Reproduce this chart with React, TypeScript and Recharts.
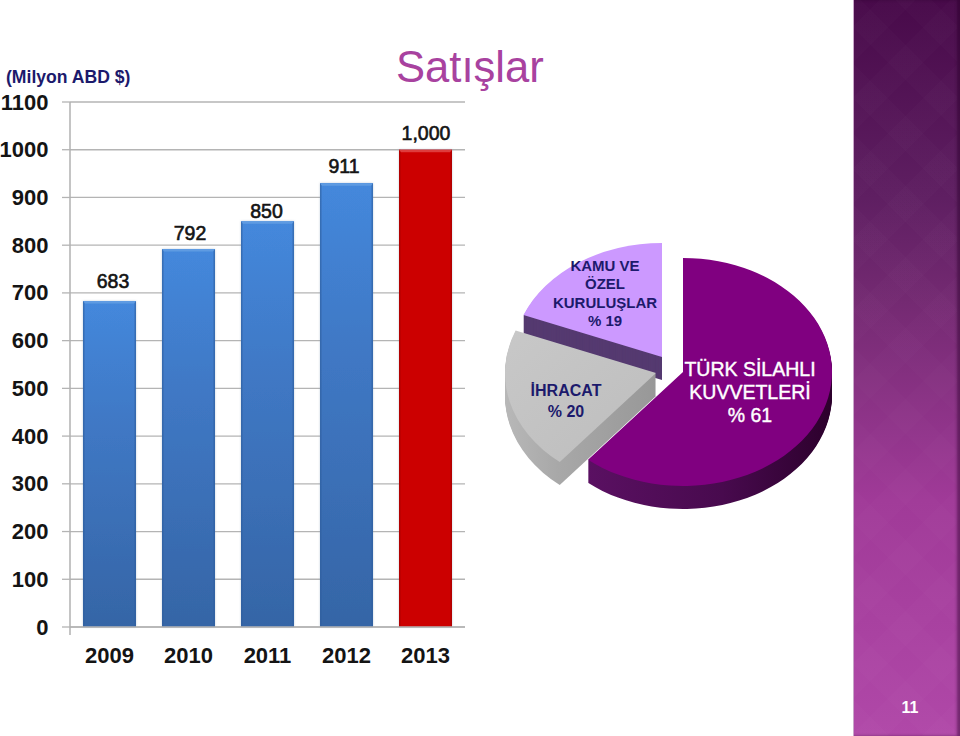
import React from 'react';
import { BarChart, Bar, XAxis, YAxis, CartesianGrid, LabelList, PieChart, Pie, Cell } from 'recharts';

const years = ['2009', '2010', '2011', '2012', '2013'];
const barValues = [683, 792, 850, 930, 1000];
const barLabels = ['683', '792', '850', '911', '1,000'];
const yTicks = [0, 100, 200, 300, 400, 500, 600, 700, 800, 900, 1000, 1100];
const barRows = years.map((year, i) => ({ year, value: barValues[i], label: barLabels[i] }));
const labelNudgeX = [3.5, 1.5, -1, -2.5, 0.5];
const labelNudgeY = [4, 0, -6, 1, 1];

const shareNames = ['TÜRK SİLAHLI KUVVETLERİ', 'İHRACAT', 'KAMU VE ÖZEL KURULUŞLAR'];
const shareValues = [61, 20, 19];
const shareRows = shareNames.map((name, i) => ({ name, value: shareValues[i] }));

const SQUASH = 114 / 149;
const DEPTH = 23;
const FONT = '"Liberation Sans", Arial, sans-serif';
const NAVY = '#1c1a6c';

const sliceSpec = [
  { index: 2, cx: 172, cy: 127 / SQUASH, r: 149, top: '#cc99ff', side: '#553a70' },
  { index: 1, cx: 166, cy: 143 / SQUASH, r: 151, top: 'url(#greyTop)', side: 'url(#greySide)' },
  { index: 0, cx: 193, cy: 142 / SQUASH, r: 149, top: '#800080', side: 'url(#purpleSide)' },
];

const BarShape = (props: any) => {
  const { x, y, width, height, index } = props;
  const red = index === years.length - 1;
  const edge = red ? '#a00808' : '#2f5f9f';
  return (
    <g filter="url(#barShadow)">
      <rect x={x} y={y} width={width} height={height} fill={red ? '#cc0000' : 'url(#blueFill)'} />
      <rect x={x} y={y} width={1.5} height={height} fill={edge} opacity={0.6} />
      <rect x={x + width - 1.5} y={y} width={1.5} height={height} fill={edge} opacity={0.6} />
      <polygon
        points={`${x},${y} ${x + width},${y} ${x + width - 2},${y + 2.5} ${x + 2},${y + 2.5}`}
        fill={red ? '#de3c3c' : '#5f9be2'}
      />
    </g>
  );
};

const BarValueLabel = (props: any) => {
  const { x, y, width, value, index } = props;
  return (
    <text
      x={x + width / 2 + labelNudgeX[index]}
      y={y - 9 - labelNudgeY[index]}
      textAnchor="middle"
      fontFamily={FONT}
      fontSize={19.5}
      fill="#141414"
      stroke="#141414"
      strokeWidth={0.6}
    >
      {value}
    </text>
  );
};

const YTick = (props: any) => {
  const { x, y, payload } = props;
  return (
    <g>
      {payload.value === 0 && <line x1={x + 22} x2={x + 22} y1={y} y2={y + 8} stroke="#b0b0b0" strokeWidth={1.5} />}
      <text x={x + 0.5} y={y + 7.5} textAnchor="end" fontFamily={FONT} fontWeight="bold" fontSize={22} fill="#141414">
        {payload.value}
      </text>
    </g>
  );
};

const PieLayer = ({ spec, offset, fill }: { spec: (typeof sliceSpec)[number]; offset: number; fill: string }) => (
  <Pie
    key={`${spec.index}-${offset}`}
    data={shareRows}
    dataKey="value"
    nameKey="name"
    cx={spec.cx}
    cy={spec.cy + offset / SQUASH}
    outerRadius={spec.r}
    innerRadius={0}
    startAngle={90}
    endAngle={-270}
    stroke="none"
    isAnimationActive={false}
    label={false}
    labelLine={false}
  >
    {shareRows.map((row, i) => (
      <Cell key={row.name} fill={i === spec.index ? fill : 'none'} stroke="none" />
    ))}
  </Pie>
);

const depthSteps = Array.from({ length: DEPTH }, (_, i) => DEPTH - i);

const textBlock = (left: number, top: number, width: number, lines: string[], size: number, lh: number, color: string, bold: boolean, extra: React.CSSProperties = {}) => (
  <div
    style={{
      position: 'absolute', left, top, width, textAlign: 'center', color,
      fontFamily: FONT, fontSize: size, lineHeight: `${lh}px`, fontWeight: bold ? 'bold' : 'normal', whiteSpace: 'nowrap', ...extra,
    }}
  >
    {lines.map((l) => (
      <div key={l}>{l}</div>
    ))}
  </div>
);

export default function App() {
  return (
    <div style={{ position: 'absolute', left: 0, top: 0, width: 960, height: 736, overflow: 'hidden', background: '#fff' }}>
      <div
        style={{
          position: 'absolute', left: 853, top: 0, width: 107, height: 736,
          background: 'linear-gradient(180deg, #480a4a 0%, #5f1f62 27%, #742a72 41%, #a03a98 68%, #b048a8 100%)',
          boxShadow: 'inset 1px 0 0 #c9a6c9, inset -3px 0 3px rgba(40,0,40,0.45)',
        }}
      />
      <div
        style={{
          position: 'absolute', left: 854, top: 0, width: 103, height: 736,
          backgroundImage:
            'repeating-linear-gradient(45deg, rgba(255,255,255,0.012) 0 25px, rgba(255,255,255,0) 25px 50px), repeating-linear-gradient(-45deg, rgba(255,255,255,0.012) 0 25px, rgba(255,255,255,0) 25px 50px)',
        }}
      />
      <div style={{ position: 'absolute', left: 880, top: 698, width: 60, textAlign: 'center', color: '#fff', fontFamily: FONT, fontWeight: 'bold', fontSize: 16, lineHeight: '20px' }}>11</div>

      <div style={{ position: 'absolute', left: 396, top: 41, color: '#a8429f', fontFamily: FONT, fontSize: 43.6, lineHeight: '52px', whiteSpace: 'nowrap' }}>Satışlar</div>
      <div style={{ position: 'absolute', left: 6, top: 67, color: NAVY, fontFamily: FONT, fontSize: 17.6, lineHeight: '20px', fontWeight: 'bold', whiteSpace: 'nowrap' }}>(Milyon ABD $)</div>

      <div style={{ position: 'absolute', left: 0, top: 0 }}>
        <BarChart width={480} height={680} data={barRows} margin={{ top: 102, right: 15, bottom: 0, left: 0 }} barSize={53}>
          <defs>
            <linearGradient id="blueFill" x1="0" y1="0" x2="0" y2="1">
              <stop offset="0%" stopColor="#4488dc" />
              <stop offset="35%" stopColor="#4079c6" />
              <stop offset="100%" stopColor="#3565a6" />
            </linearGradient>
            <filter id="barShadow" x="-15%" y="-5%" width="130%" height="110%">
              <feDropShadow dx="0" dy="0" stdDeviation="1.2" floodColor="#6f87a8" floodOpacity="0.4" />
            </filter>
          </defs>
          <CartesianGrid vertical={false} stroke="#b4b4b4" strokeWidth={1.3} />
          <XAxis
            dataKey="year"
            height={53}
            tickLine={false}
            axisLine={{ stroke: '#b4b4b4', strokeWidth: 1.3 }}
            tick={{ fontFamily: FONT, fontWeight: 'bold', fontSize: 22, fill: '#141414' }}
            tickMargin={14}
            interval={0}
          />
          <YAxis
            type="number"
            width={70}
            domain={[0, 1100]}
            ticks={yTicks}
            interval={0}
            tick={<YTick />}
            tickSize={8}
            tickMargin={14}
            tickLine={{ stroke: '#b4b4b4', strokeWidth: 1.3 }}
            axisLine={{ stroke: '#b0b0b0', strokeWidth: 1.5 }}
          />
          <Bar dataKey="value" shape={<BarShape />} isAnimationActive={false}>
            <LabelList dataKey="label" content={<BarValueLabel />} />
          </Bar>
        </BarChart>
      </div>

      <div style={{ position: 'absolute', left: 490, top: 230, width: 360, height: 400, transform: `scaleY(${SQUASH})`, transformOrigin: '0 0' }}>
        <PieChart width={360} height={400} margin={{ top: 0, right: 0, bottom: 0, left: 0 }}>
          <defs>
            <linearGradient id="purpleSide" x1="0" y1="0" x2="1" y2="0">
              <stop offset="0%" stopColor="#5a1062" />
              <stop offset="55%" stopColor="#480a4e" />
              <stop offset="100%" stopColor="#2c002c" />
            </linearGradient>
            <linearGradient id="greySide" x1="0" y1="0" x2="1" y2="0">
              <stop offset="0%" stopColor="#b8b8b8" />
              <stop offset="35%" stopColor="#a8a8a8" />
              <stop offset="100%" stopColor="#989898" />
            </linearGradient>
            <linearGradient id="greyTop" x1="0" y1="0" x2="1" y2="1">
              <stop offset="0%" stopColor="#c8c8c8" />
              <stop offset="100%" stopColor="#bdbdbd" />
            </linearGradient>
          </defs>
          {sliceSpec.map((spec) => (
            <React.Fragment key={spec.index}>
              {depthSteps.map((d) => PieLayer({ spec, offset: d, fill: spec.side }))}
              {PieLayer({ spec, offset: 0, fill: spec.top })}
            </React.Fragment>
          ))}
        </PieChart>
      </div>

      {textBlock(525, 257, 160, ['KAMU VE', 'ÖZEL', 'KURULUŞLAR', '% 19'], 15, 18.3, NAVY, true)}
      {textBlock(506, 380, 120, ['İHRACAT', '% 20'], 16, 21, NAVY, true)}
      {textBlock(670, 358, 160, ['TÜRK SİLAHLI', 'KUVVETLERİ', '% 61'], 19.5, 23, '#ffffff', false, { WebkitTextStroke: '0.4px #ffffff' })}
    </div>
  );
}
